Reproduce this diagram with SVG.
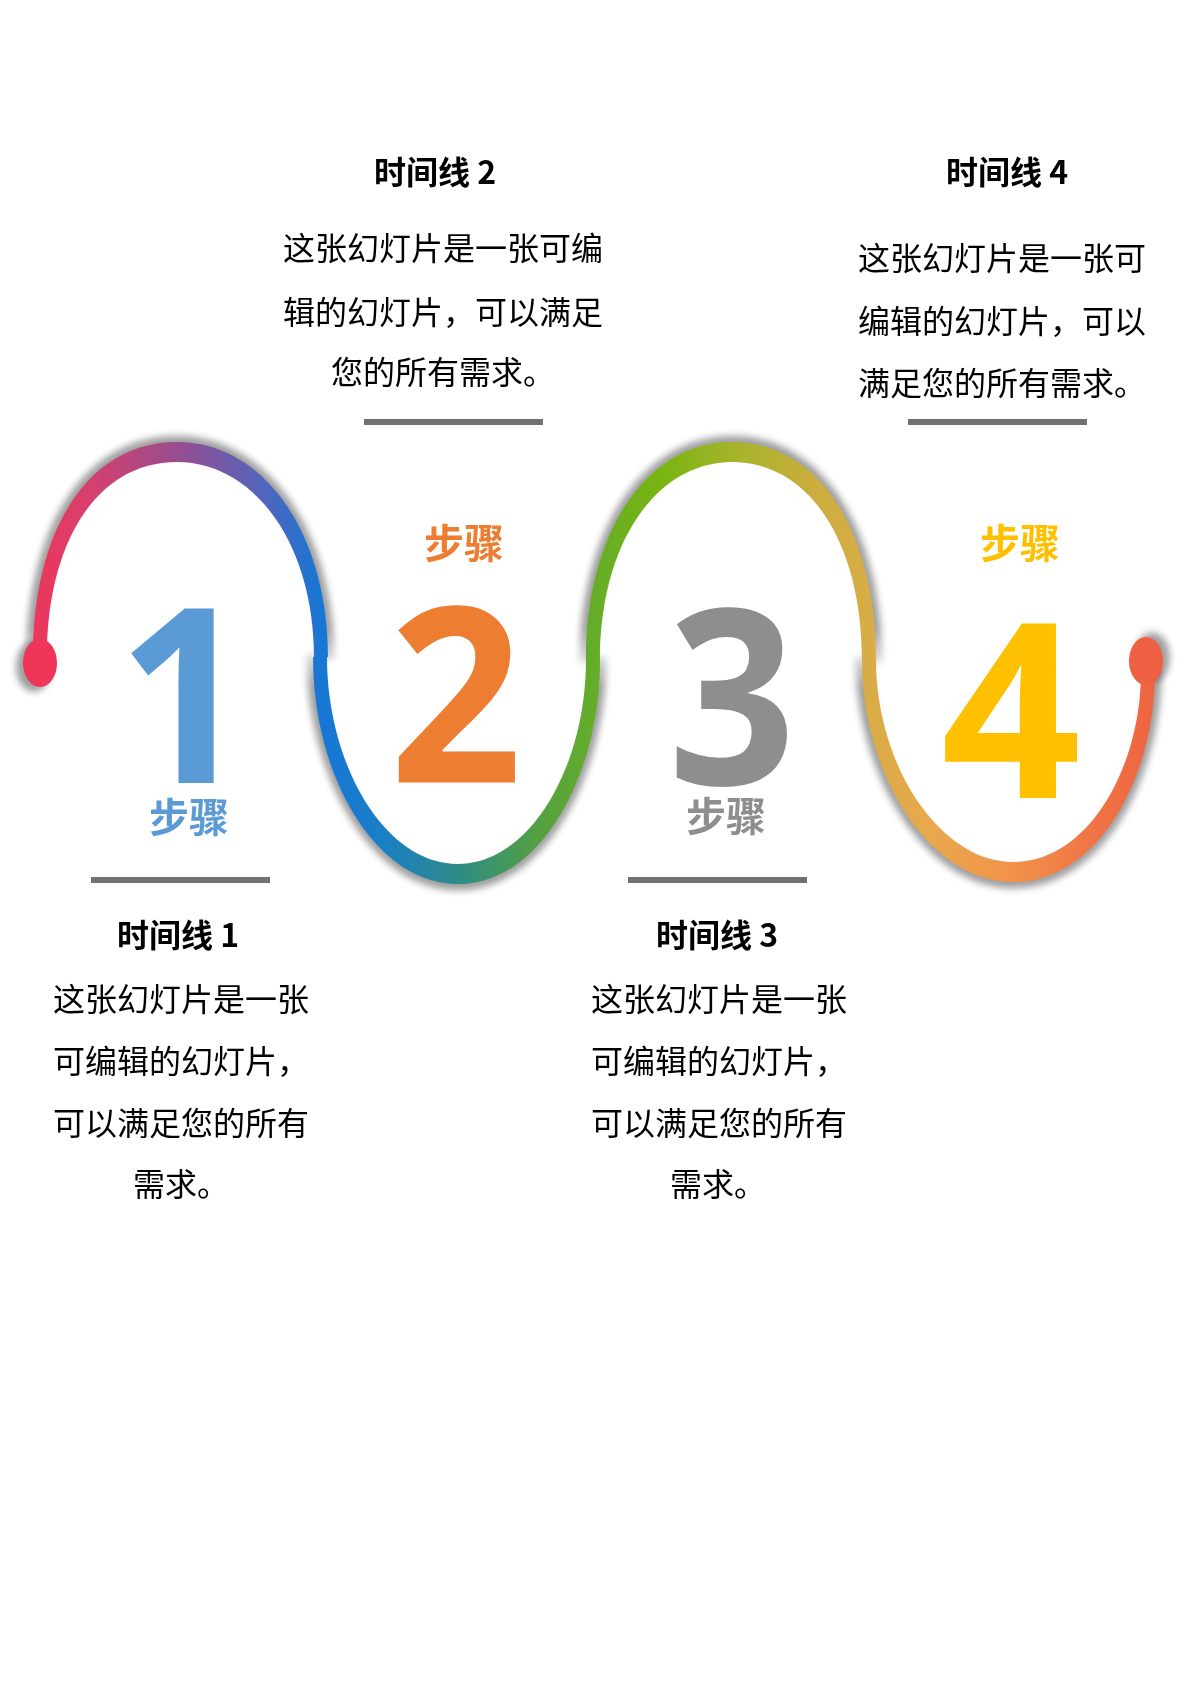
<svg xmlns="http://www.w3.org/2000/svg" width="1191" height="1684" viewBox="0 0 1191 1684">
  <defs>
    <linearGradient id="wave" gradientUnits="userSpaceOnUse" x1="25" y1="0" x2="1170" y2="0">
      <stop offset="0" stop-color="#EF3558"/>
      <stop offset="0.05" stop-color="#DA3F6A"/>
      <stop offset="0.13" stop-color="#9A4C8E"/>
      <stop offset="0.2" stop-color="#5A62B8"/>
      <stop offset="0.26" stop-color="#1677D6"/>
      <stop offset="0.31" stop-color="#1A7EC8"/>
      <stop offset="0.38" stop-color="#2E8C85"/>
      <stop offset="0.45" stop-color="#55A040"/>
      <stop offset="0.5" stop-color="#66AE28"/>
      <stop offset="0.555" stop-color="#78B510"/>
      <stop offset="0.62" stop-color="#A5B42A"/>
      <stop offset="0.69" stop-color="#CCAD3E"/>
      <stop offset="0.73" stop-color="#D6AD45"/>
      <stop offset="0.79" stop-color="#E9A84E"/>
      <stop offset="0.86" stop-color="#F1934A"/>
      <stop offset="0.93" stop-color="#F07545"/>
      <stop offset="1" stop-color="#EF6040"/>
    </linearGradient>
    <linearGradient id="fadeTop" gradientUnits="userSpaceOnUse" x1="0" y1="628" x2="0" y2="680">
      <stop offset="0" stop-color="#FFFFFF"/>
      <stop offset="1" stop-color="#000000"/>
    </linearGradient>
    <linearGradient id="fadeBottom" gradientUnits="userSpaceOnUse" x1="0" y1="636" x2="0" y2="688">
      <stop offset="0" stop-color="#000000"/>
      <stop offset="1" stop-color="#FFFFFF"/>
    </linearGradient>
    <mask id="mTop" maskUnits="userSpaceOnUse" x="0" y="0" width="1191" height="1684">
      <rect width="1191" height="1684" fill="url(#fadeTop)"/>
    </mask>
    <mask id="mBottom" maskUnits="userSpaceOnUse" x="0" y="0" width="1191" height="1684">
      <rect width="1191" height="1684" fill="url(#fadeBottom)"/>
    </mask>
    <filter id="blur" x="-10%" y="-10%" width="120%" height="120%">
      <feGaussianBlur stdDeviation="3.5"/>
    </filter>
    <path id="arcA" d="M 33 657 C 33 535 85 442 177 442 C 265 442 328 535 328 657 L 314 657 C 314 545 255 462 177 462 C 95 462 47 545 47 657 Z"/>
    <path id="arcB" d="M 313 657 C 313 775 375 884 458 884 C 541 884 600 775 600 660 L 586 660 C 586 765 531 864 458 864 C 385 864 327 765 327 657 Z"/>
    <path id="arcC" d="M 586 660 C 586 535 645 442 732 442 C 821 442 876 535 876 660 L 862 660 C 862 545 811 462 732 462 C 655 462 600 545 600 660 Z"/>
    <path id="arcD" d="M 862 660 C 862 775 930 882 1013 882 C 1100 882 1155 775 1155 672 L 1141 672 C 1141 765 1090 862 1013 862 C 940 862 876 765 876 660 Z"/>
    <ellipse id="dotL" cx="40" cy="663" rx="17" ry="24"/>
    <ellipse id="dotR" cx="1146" cy="661" rx="17" ry="24"/>
  </defs>
  <style>
    .title { font-family: "Noto Sans CJK SC", "Microsoft YaHei", sans-serif; font-weight: 700; font-size: 32px; fill: #000; text-anchor: middle; }
    .body { font-family: "Noto Sans CJK SC", "Microsoft YaHei", sans-serif; font-weight: 400; font-size: 32px; fill: #000; }
    .bar { fill: #717171; }
    .num { font-family: "Open Sans", "DejaVu Sans", sans-serif; font-weight: 700; font-size: 245px; text-anchor: middle; }
    .step { font-family: "Noto Sans CJK SC", sans-serif; font-weight: 700; font-size: 40px; text-anchor: middle; }
    .shadow { fill: #000; opacity: 0.38; }
  </style>
  <rect width="1191" height="1684" fill="#FFFFFF"/>

  <g id="connectors">
    <g mask="url(#mTop)">
      <g class="shadow" filter="url(#blur)">
        <g transform="translate(180 580) scale(1.045) translate(-180 -580)"><use href="#arcA"/></g>
        <g transform="translate(731 580) scale(1.045) translate(-731 -580)"><use href="#arcC"/></g>
      </g>
    </g>
    <g mask="url(#mBottom)">
      <g class="shadow" filter="url(#blur)">
        <g transform="translate(458 740) scale(1.045) translate(-458 -740)"><use href="#arcB"/></g>
        <g transform="translate(1010 740) scale(1.045) translate(-1010 -740)"><use href="#arcD"/></g>
      </g>
    </g>
    <g class="shadow" filter="url(#blur)">
      <g transform="translate(180 580) scale(1.045) translate(-180 -580)"><use href="#dotL"/></g>
      <g transform="translate(1010 740) scale(1.045) translate(-1010 -740)"><use href="#dotR"/></g>
    </g>
    <g fill="url(#wave)">
      <use href="#arcA"/>
      <use href="#arcB"/>
      <use href="#arcC"/>
      <use href="#arcD"/>
    </g>
    <use href="#dotL" fill="#EF3558"/>
    <use href="#dotR" fill="#EF6042"/>
  </g>

  <g id="step1">
    <text class="num" transform="translate(184 783) scale(0.95 1)" x="0" y="0" fill="#5B9BD5">1</text>
    <text class="step" x="189" y="832" fill="#5B9BD5">步骤</text>
    <rect class="bar" x="91" y="877" width="179" height="6"/>
    <text class="title" x="178" y="947">时间线 1</text>
    <text class="body" x="53" y="1011">这张幻灯片是一张</text>
    <text class="body" x="53" y="1073">可编辑的幻灯片，</text>
    <text class="body" x="53" y="1135">可以满足您的所有</text>
    <text class="body" x="133" y="1196">需求。</text>
  </g>

  <g id="step2">
    <text class="title" x="435" y="184">时间线 2</text>
    <text class="body" x="283" y="260">这张幻灯片是一张可编</text>
    <text class="body" x="283" y="324">辑的幻灯片，可以满足</text>
    <text class="body" x="331" y="384">您的所有需求。</text>
    <rect class="bar" x="364" y="419" width="179" height="6"/>
    <text class="step" x="464" y="558" fill="#ED7D31">步骤</text>
    <text class="num" transform="translate(456 782) scale(0.95 1)" x="0" y="0" fill="#ED7D31">2</text>
  </g>

  <g id="step3">
    <text class="num" transform="translate(732 785) scale(0.91 1)" x="0" y="0" fill="#8E8E8E">3</text>
    <text class="step" x="726" y="831" fill="#8E8E8E">步骤</text>
    <rect class="bar" x="628" y="877" width="179" height="6"/>
    <text class="title" x="717" y="947">时间线 3</text>
    <text class="body" x="591" y="1011">这张幻灯片是一张</text>
    <text class="body" x="591" y="1073">可编辑的幻灯片，</text>
    <text class="body" x="591" y="1135">可以满足您的所有</text>
    <text class="body" x="670" y="1196">需求。</text>
  </g>

  <g id="step4">
    <text class="title" x="1007" y="184">时间线 4</text>
    <text class="body" x="858" y="270">这张幻灯片是一张可</text>
    <text class="body" x="858" y="333">编辑的幻灯片，可以</text>
    <text class="body" x="858" y="395">满足您的所有需求。</text>
    <rect class="bar" x="908" y="419" width="179" height="6"/>
    <text class="step" x="1020" y="558" fill="#FFC000">步骤</text>
    <text class="num" x="1011" y="798" fill="#FFC000">4</text>
  </g>
</svg>
